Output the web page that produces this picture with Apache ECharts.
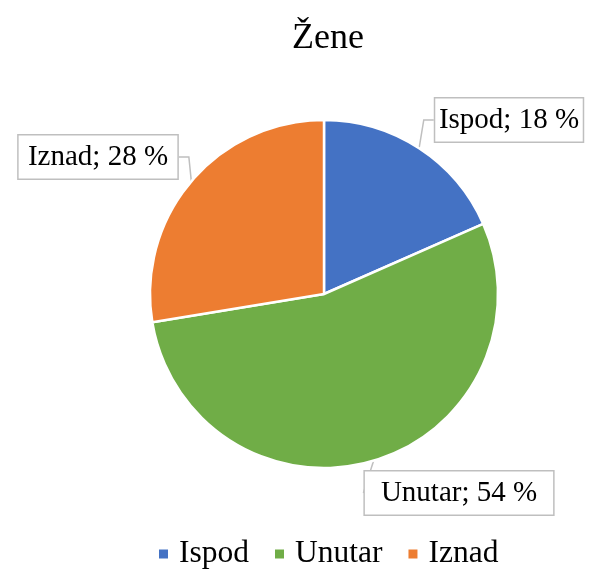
<!DOCTYPE html>
<html><head><meta charset="utf-8">
<script src="https://cdn.jsdelivr.net/npm/echarts@6/dist/echarts.min.js"></script>
<style>html,body{margin:0;padding:0;background:#fff}#c{width:597px;height:571px}</style>
</head><body><div id="c"></div>
<script>
const categories = ['Ispod', 'Unutar', 'Iznad'];
const values = [18.4, 54.0, 27.6];
const colors = ['#4472C4', '#70AD47', '#ED7D31'];
const labelCenters = [[509, 120], [459, 493], [98, 157]];
const font = '"Liberation Serif", "Times New Roman", serif';

const chart = echarts.init(document.getElementById('c'));
chart.setOption({
  animation: false,
  title: {
    text: 'Žene', left: 287, top: 16,
    textStyle: { fontFamily: font, fontSize: 36, fontWeight: 'normal', color: '#000' }
  },
  legend: {
    top: 533, left: 152, icon: 'rect', itemWidth: 11, itemHeight: 11, itemGap: 24,
    textStyle: { fontFamily: font, fontSize: 31.5, color: '#000', padding: [0, 0, 0, 5] },
    data: categories
  },
  series: [{
    type: 'pie',
    center: [324, 294],
    radius: [0, 174],
    startAngle: 90,
    clockwise: true,
    data: categories.map((c, i) => ({ name: c, value: values[i], itemStyle: { color: colors[i] } })),
    itemStyle: { borderColor: '#fff', borderWidth: 2.5 },
    label: {
      show: true,
      overflow: 'none',
      formatter: p => p.name + '; ' + Math.round(p.value) + ' %',
      fontFamily: font, fontSize: 29, color: '#000',
      backgroundColor: '#fff', borderColor: '#BFBFBF', borderWidth: 1.5,
      padding: [8, 16, 6, 16]
    },
    labelLine: { show: true, lineStyle: { color: '#BFBFBF', width: 1.5 }, length: 10, length2: 10 },
    labelLayout: p => ({ x: labelCenters[p.dataIndex][0], y: labelCenters[p.dataIndex][1], align: 'center', verticalAlign: 'middle' }),
    emphasis: { disabled: true }
  }]
});
</script></body></html>
